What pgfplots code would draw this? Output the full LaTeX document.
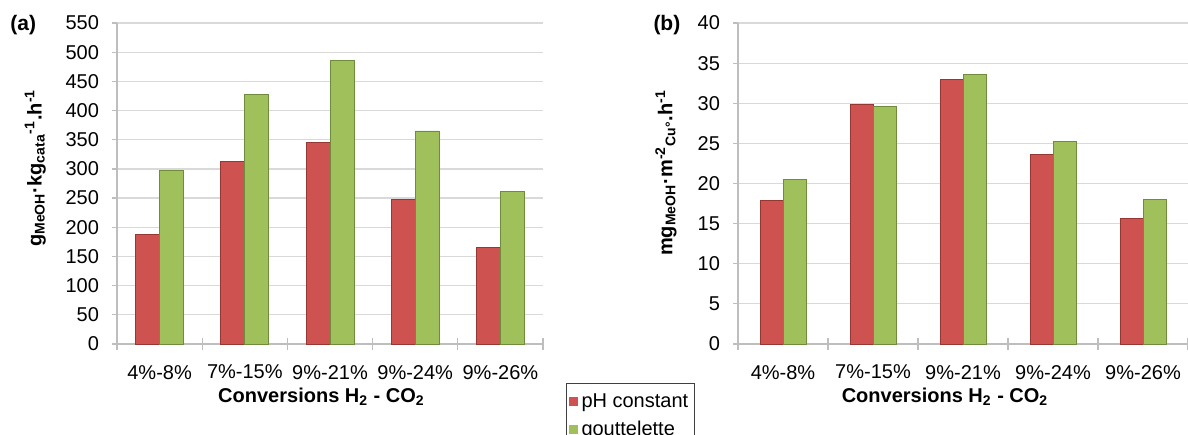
\documentclass[border=0pt]{standalone}
\usepackage{pgfplots}
\pgfplotsset{compat=1.18}
\usepackage{fontspec}
\setmainfont{Liberation Sans}
\definecolor{barred}{RGB}{205,82,80}
\definecolor{barredd}{RGB}{150,55,52}
\definecolor{bargreen}{RGB}{160,192,92}
\definecolor{bargreend}{RGB}{110,140,60}
\definecolor{gridgray}{RGB}{217,217,217}
\definecolor{axisgray}{RGB}{190,190,190}
\pgfplotsset{
  common/.style={
    scale only axis,
    ybar=0pt,
    axis lines=left,
    axis line style={-, draw=axisgray, line width=0.6pt},
    ymajorgrids,
    grid style={draw=gridgray, line width=0.6pt},
    xmin=-0.5, xmax=4.5,
    enlarge x limits=false,
    ymin=0,
    xtick={0,1,2,3,4},
    xticklabels={4\%-8\%,7\%-15\%,9\%-21\%,9\%-24\%,9\%-26\%},
    major x tick style={draw=none},
    extra x ticks={-0.5,0.5,1.5,2.5,3.5,4.5},
    extra x tick labels={},
    extra x tick style={major x tick style={draw=axisgray, line width=0.6pt}, major tick length=6pt, tick align=center, xmajorgrids=false},
    ytick style={draw=axisgray, line width=0.6pt},
    major tick length=2.5pt,
    tick align=outside,
    /pgf/number format/assume math mode=true,
    ticklabel style={font=\fontsize{10}{12}\selectfont},
    yticklabel style={xshift=-3pt},
    xticklabel style={yshift=-4.5pt},
    xlabel={\textbf{Conversions H\textsubscript{2} - CO\textsubscript{2}}},
    label style={font=\fontsize{10}{12}\selectfont\bfseries},
    legend image code/.code={\draw[#1, draw=none] (0pt,-2pt) rectangle (4.5pt,2.5pt);},
  },
  redbar/.style={fill=barred, draw=barredd, line width=0.4pt},
  greenbar/.style={fill=bargreen, draw=bargreend, line width=0.4pt},
}
\begin{document}
\begin{tikzpicture}
\begin{axis}[common,
  at={(58.5pt,45pt)}, anchor=south west,
  width=213pt, height=160.5pt,
  ymax=550, ytick distance=50,
  bar width=12pt,
  xlabel style={at={(axis description cs:0.48,-0.165)}, anchor=center},
  ylabel={g\textsubscript{MeOH}·kg\textsubscript{cata}\textsuperscript{-1}.h\textsuperscript{-1}},
  ylabel style={at={(axis description cs:-0.192,0.548)}, anchor=center, rotate=0},
  legend style={at={(axis description cs:1.054,-0.1215)}, anchor=north west,
    draw=black!75, line width=0.5pt, font=\fontsize{10}{12}\selectfont,
    legend cell align=left, row sep=1.5pt, inner xsep=1pt, inner ysep=3pt,
    /tikz/every even column/.append style={column sep=1pt}},
  clip=false,
]
\addplot[redbar] coordinates {(0,188) (1,313) (2,345) (3,248) (4,165)};
\addplot[greenbar] coordinates {(0,298) (1,428) (2,486) (3,365) (4,261)};
\legend{pH constant, gouttelette}
\node[font=\fontsize{10.5}{12}\selectfont\bfseries] at (axis description cs:-0.22,0.993) {(a)};
\end{axis}
\begin{axis}[common,
  at={(369pt,45pt)}, anchor=south west,
  width=225pt, height=160.5pt,
  ymax=40, ytick distance=5,
  bar width=11.5pt,
  xlabel style={at={(axis description cs:0.46,-0.165)}, anchor=center},
  ylabel={mg\textsubscript{MeOH}·m\textsuperscript{-2}\textsubscript{Cu°}.h\textsuperscript{-1}},
  ylabel style={at={(axis description cs:-0.16,0.533)}, anchor=center, rotate=0},
  clip=false,
]
\addplot[redbar] coordinates {(0,17.9) (1,29.9) (2,33.0) (3,23.6) (4,15.6)};
\addplot[greenbar] coordinates {(0,20.5) (1,29.6) (2,33.6) (3,25.2) (4,18.0)};
\node[font=\fontsize{10.5}{12}\selectfont\bfseries] at (axis description cs:-0.158,0.993) {(b)};
\end{axis}
\pgfresetboundingbox
\path[use as bounding box] (0,0) rectangle (594pt,217pt);
\end{tikzpicture}
\end{document}
